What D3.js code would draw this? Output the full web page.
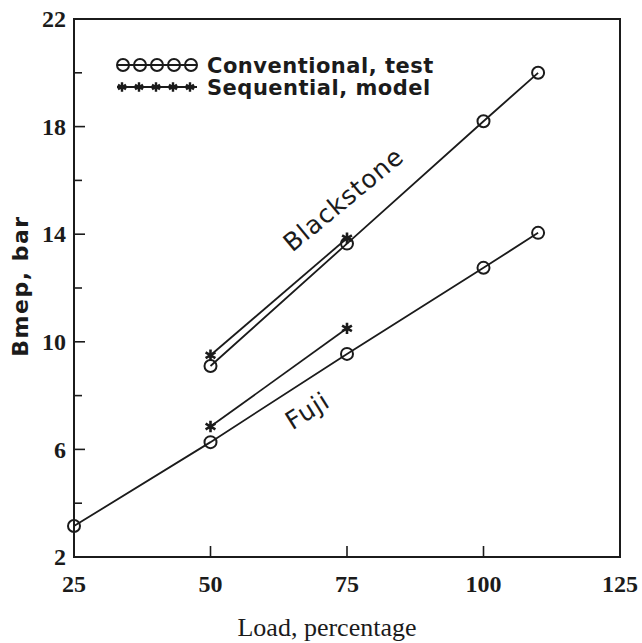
<!DOCTYPE html>
<html>
<head>
<meta charset="utf-8">
<script src="https://cdn.jsdelivr.net/npm/d3@7"></script>
<style>
  html, body { margin: 0; padding: 0; background: #fff; }
</style>
</head>
<body>
<svg id="chart" width="642" height="643"></svg>
<script>
// values
const bsTestLoad = [50, 75, 100, 110];
const bsTestBmep = [9.1, 13.65, 18.2, 20.0];
const bsModelLoad = [50, 75];
const bsModelBmep = [9.5, 13.85];
const fjTestLoad = [25, 50, 75, 100, 110];
const fjTestBmep = [3.15, 6.27, 9.55, 12.75, 14.05];
const fjModelLoad = [50, 75];
const fjModelBmep = [6.85, 10.5];

const xTickValues = [25, 50, 75, 100, 125];
const yTickValues = [2, 4, 6, 8, 10, 12, 14, 16, 18, 20, 22];
const yLabelValues = [2, 6, 10, 14, 18, 22];
const legendLabels = ['Conventional, test', 'Sequential, model'];

const ink = '#1b1b1b';
const tickFont = 'bold 24px "Liberation Serif", "Times New Roman", serif';
const svg = d3.select('#chart');

const x = d3.scaleLinear().domain([25, 125]).range([74, 620]);
const y = d3.scaleLinear().domain([2, 22]).range([557, 19]);

const zip = (a, b) => a.map((v, i) => [v, b[i]]);

// frame
const g = svg.append('g');
g.append('rect')
	.attr('x', x(25)).attr('y', y(22))
	.attr('width', x(125) - x(25)).attr('height', y(2) - y(22))
	.attr('fill', 'none').attr('stroke', ink).attr('stroke-width', 2);

// y ticks point inward
g.selectAll('.ytick')
	.data(yTickValues.filter(d => d > 2 && d < 22))
	.enter()
	.append('line')
	.attr('x1', x(25)).attr('x2', d => x(25) + (yLabelValues.indexOf(d) > -1 ? 11 : 8))
	.attr('y1', d => y(d)).attr('y2', d => y(d))
	.attr('stroke', ink).attr('stroke-width', 1.6);

g.selectAll('.xtick')
	.data(xTickValues.filter(d => d > 25 && d < 125))
	.enter()
	.append('line')
	.attr('x1', d => x(d)).attr('x2', d => x(d))
	.attr('y1', y(2)).attr('y2', y(2) - 11)
	.attr('stroke', ink).attr('stroke-width', 1.6);

// tick labels
g.selectAll('.ylab')
	.data(yLabelValues)
	.enter()
	.append('text')
	.attr('x', x(25) - 8)
	.attr('y', d => y(d))
	.attr('dy', '0.34em')
	.attr('text-anchor', 'end')
	.style('font', tickFont)
	.attr('fill', ink)
	.text(d => d);

g.selectAll('.xlab')
	.data(xTickValues)
	.enter()
	.append('text')
	.attr('x', d => x(d))
	.attr('y', y(2) + 35)
	.attr('text-anchor', 'middle')
	.style('font', tickFont)
	.attr('fill', ink)
	.text(d => d);

// axis titles
svg.append('text')
	.attr('transform', `translate(28,286) rotate(-90)`)
	.attr('text-anchor', 'middle')
	.style('font', 'bold 22px "DejaVu Sans", sans-serif')
	.style('letter-spacing', '1.5px')
	.attr('fill', ink)
	.text('Bmep, bar');

svg.append('text')
	.attr('x', 327).attr('y', 636)
	.attr('text-anchor', 'middle')
	.style('font', '26px "Liberation Serif", "Times New Roman", serif')
	.attr('fill', ink)
	.text('Load, percentage');

// lines
const line = d3.line().x(d => x(d[0])).y(d => y(d[1]));
const series = [
	{ pts: zip(bsTestLoad, bsTestBmep), mark: 'circle' },
	{ pts: zip(bsModelLoad, bsModelBmep), mark: 'star' },
	{ pts: zip(fjTestLoad, fjTestBmep), mark: 'circle' },
	{ pts: zip(fjModelLoad, fjModelBmep), mark: 'star' },
];

g.selectAll('.series')
	.data(series)
	.enter()
	.append('path')
	.attr('d', s => line(s.pts))
	.attr('fill', 'none')
	.attr('stroke', ink)
	.attr('stroke-width', 1.8);

const star = d3.symbol(d3.symbolAsterisk, 90);

series.forEach(s => {
	if (s.mark === 'circle') {
		g.selectAll(null)
			.data(s.pts)
			.enter()
			.append('circle')
			.attr('cx', d => x(d[0])).attr('cy', d => y(d[1]))
			.attr('r', 6)
			.attr('fill', 'none').attr('stroke', ink).attr('stroke-width', 2);
	} else {
		g.selectAll(null)
			.data(s.pts)
			.enter()
			.append('path')
			.attr('d', star)
			.attr('transform', d => `translate(${x(d[0])},${y(d[1])})`)
			.attr('fill', 'none').attr('stroke', ink).attr('stroke-width', 2.6);
	}
});

// curve labels
svg.append('text')
	.attr('transform', `translate(349,206) rotate(-39.5)`)
	.attr('text-anchor', 'middle')
	.style('font', '25px "DejaVu Sans", sans-serif')
	.style('letter-spacing', '1px')
	.attr('fill', ink)
	.text('Blackstone');

svg.append('text')
	.attr('transform', `translate(312,418) rotate(-32)`)
	.attr('text-anchor', 'middle')
	.style('font', '25px "DejaVu Sans", sans-serif')
	.style('letter-spacing', '1px')
	.attr('fill', ink)
	.text('Fuji');

// legend
const legend = svg.append('g').attr('transform', 'translate(117,65)');
const legendRows = legend.selectAll('g')
	.data(legendLabels)
	.enter()
	.append('g')
	.attr('transform', (d, i) => `translate(0,${i * 22})`);

legendRows.append('line')
	.attr('x1', 0).attr('x2', 80)
	.attr('stroke', ink).attr('stroke-width', 1.8);

legendRows.each(function(d, i) {
	const row = d3.select(this);
	d3.range(5).forEach(k => {
		if (i === 0) {
			row.append('circle')
				.attr('cx', 6 + k * 17).attr('cy', 0).attr('r', 6)
				.attr('fill', 'none').attr('stroke', ink).attr('stroke-width', 2);
		} else {
			row.append('path')
				.attr('d', d3.symbol(d3.symbolAsterisk, 60))
				.attr('transform', `translate(${5 + k * 17},0)`)
				.attr('fill', 'none').attr('stroke', ink).attr('stroke-width', 2.4);
		}
	});
});

legendRows.append('text')
	.attr('x', 90).attr('dy', '0.36em')
	.style('font', 'bold 21px "DejaVu Sans", sans-serif')
	.style('letter-spacing', '0.5px')
	.attr('fill', ink)
	.text(d => d);
</script>
</body>
</html>
